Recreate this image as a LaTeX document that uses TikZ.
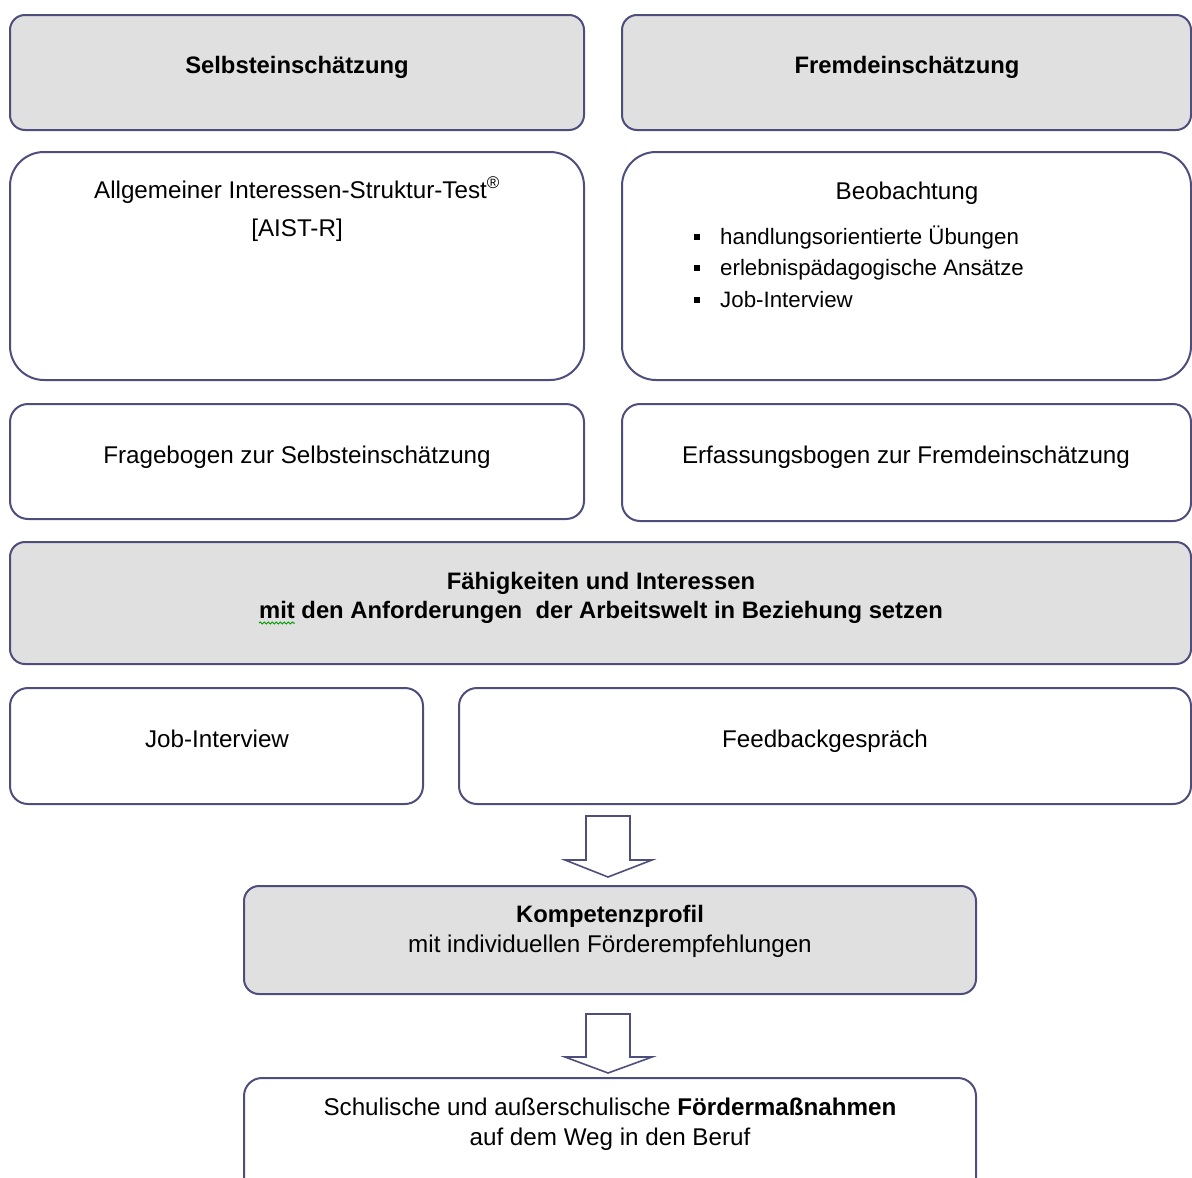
\documentclass[tikz,border=0pt]{standalone}
\usepackage{fontspec}
\setmainfont{Liberation Sans}
\usetikzlibrary{decorations.pathmorphing}
\definecolor{edge}{RGB}{78,78,124}
\definecolor{grayfill}{RGB}{224,224,224}
\begin{document}
\begin{tikzpicture}[x=1pt,y=-1pt,
  box/.style={draw=edge,line width=2pt,rounded corners=15pt,inner sep=0pt,outer sep=0pt},
  graybox/.style={box,fill=grayfill},
  whitebox/.style={box,fill=white},
  txt/.style={font=\fontsize{24.2}{29}\selectfont,anchor=base,inner sep=0pt},
  btxt/.style={txt,font=\fontsize{23.8}{29}\selectfont\bfseries},
  ltxt/.style={txt,font=\fontsize{22.3}{27}\selectfont,anchor=base west},
  blockarrow/.style={draw=edge,line width=1.6pt,fill=white,line join=miter}
]
\useasboundingbox (0,0) rectangle (1192,1178);
% boxes
\node[graybox,minimum width=574pt,minimum height=115pt,anchor=north west] (selbst) at (10,15) {};
\node[graybox,minimum width=569pt,minimum height=115pt,anchor=north west] (fremd) at (622,15) {};
\node[whitebox,rounded corners=34pt,minimum width=574pt,minimum height=228pt,anchor=north west] (aist) at (10,152) {};
\node[whitebox,rounded corners=34pt,minimum width=569pt,minimum height=228pt,anchor=north west] (beob) at (622,152) {};
\node[whitebox,rounded corners=18pt,minimum width=574pt,minimum height=115pt,anchor=north west] (frage) at (10,404) {};
\node[whitebox,rounded corners=18pt,minimum width=569pt,minimum height=117pt,anchor=north west] (erfass) at (622,404) {};
\node[graybox,minimum width=1181pt,minimum height=122pt,anchor=north west] (faeh) at (10,542) {};
\node[whitebox,rounded corners=18pt,minimum width=413pt,minimum height=116pt,anchor=north west] (job) at (10,688) {};
\node[whitebox,rounded corners=18pt,minimum width=732pt,minimum height=116pt,anchor=north west] (feed) at (459,688) {};
\node[graybox,minimum width=732pt,minimum height=108pt,anchor=north west] (komp) at (244,886) {};
\node[whitebox,rounded corners=18pt,minimum width=732pt,minimum height=130pt,anchor=north west] (schul) at (244,1078) {};
% texts
\node[btxt] (tselbst) at (297,73) {Selbsteinschätzung};
\node[btxt] (tfremd) at (907,73) {Fremdeinschätzung};
\node[txt] (taist1) at (297,198) {Allgemeiner Interessen-Struktur-Test\textsuperscript{®}};
\node[txt] (taist2) at (297,236) {[AIST-R]};
\node[txt] (tbeob) at (907,199) {Beobachtung};
\node[ltxt] (tb1) at (720,244) {handlungsorientierte Übungen};
\node[ltxt] (tb2) at (720,275) {erlebnispädagogische Ansätze};
\node[ltxt] (tb3) at (720,307) {Job-Interview};
\foreach \yy/\nm in {237/q1,268/q2,300/q3}{
  \node[fill=black,minimum size=6pt,inner sep=0pt] (\nm) at (697,\yy) {};
}
\node[txt] (tfrage) at (297,463) {Fragebogen zur Selbsteinschätzung};
\node[txt] (terfass) at (906,463) {Erfassungsbogen zur Fremdeinschätzung};
\node[btxt] (tfaeh1) at (601,589) {Fähigkeiten und Interessen};
\node[btxt] (tfaeh2) at (601,618) {mit den Anforderungen \ der Arbeitswelt in Beziehung setzen};
\draw[green!60!black,line width=1pt,decorate,decoration={snake,amplitude=1pt,segment length=4pt}]
  ([yshift=-5pt]tfaeh2.base west) -- ++(36,0);
\node[txt] (tjob) at (217,747) {Job-Interview};
\node[txt] (tfeed) at (825,747) {Feedbackgespräch};
\node[btxt] (tkomp1) at (610,922) {Kompetenzprofil};
\node[txt] (tkomp2) at (610,952) {mit individuellen Förderempfehlungen};
\node[txt] (tschul1) at (610,1115) {Schulische und außerschulische \textbf{Fördermaßnahmen}};
\node[txt] (tschul2) at (610,1145) {auf dem Weg in den Beruf};
% block arrows
\coordinate (a1) at (608,816);
\draw[blockarrow] (a1) ++(-22,0) -- ++(0,44) -- ++(-21,0) -- (608,877) -- (652,860) -- ++(-22,0) -- ++(0,-44) -- cycle;
\coordinate (a2) at (608,1014);
\draw[blockarrow] (a2) ++(-22,0) -- ++(0,43) -- ++(-21,0) -- (608,1073) -- (652,1057) -- ++(-22,0) -- ++(0,-43) -- cycle;
\end{tikzpicture}
\end{document}
